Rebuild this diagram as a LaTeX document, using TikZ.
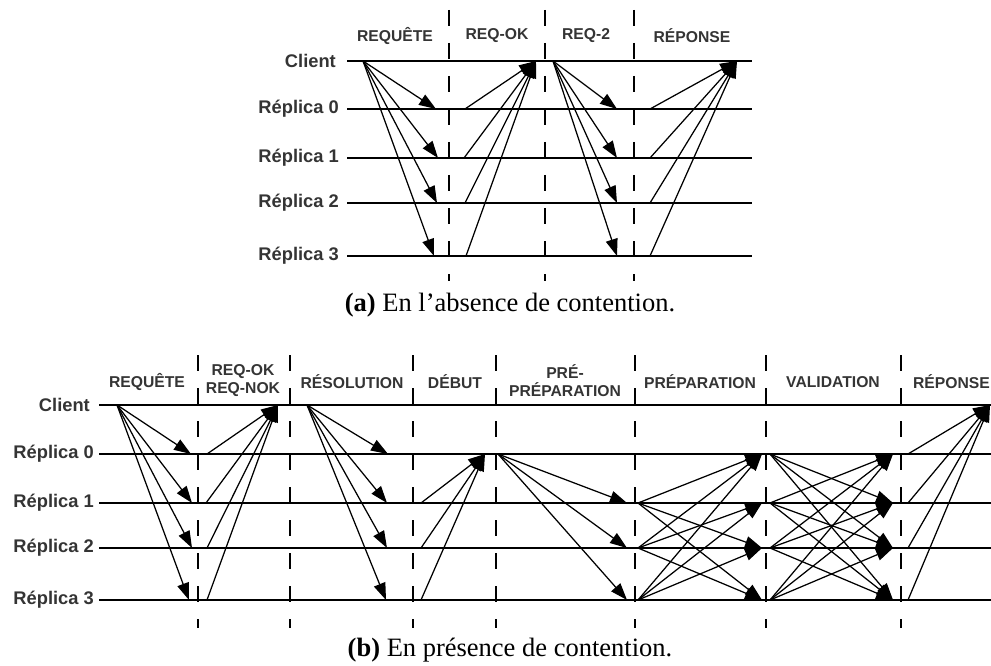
\documentclass[tikz,border=0pt]{standalone}
\usepackage{fontspec}
\setmainfont{Liberation Serif}
\newfontfamily\labfont{Liberation Sans}
\usetikzlibrary{arrows.meta}
\definecolor{labgray}{RGB}{52,52,52}
\begin{document}
\begin{tikzpicture}[x=1pt,y=-1pt,
  timeline/.style={line width=1.4pt},
  phasesep/.style={line width=1.5pt, dash pattern=on 16pt off 17pt},
  msg/.style={line width=1.25pt,-{Triangle[length=17pt,width=12pt]}},
  rowlabel/.style={anchor=east, font=\labfont\bfseries\fontsize{18.3}{20}\selectfont, text=labgray, inner sep=0pt},
  phaselabel/.style={font=\labfont\bfseries\fontsize{15.7}{18}\selectfont, text=labgray, align=center, inner sep=0pt},
  captiontext/.style={font=\fontsize{26.5}{28}\selectfont, inner sep=0pt}]

\useasboundingbox (0,0) rectangle (991,666);

% ---------- (a) without contention ----------
\foreach \n/\y/\t/\lx in {c/61/Client/336, 0/109/Réplica 0/339, 1/158/Réplica 1/339, 2/203/Réplica 2/339, 3/256/Réplica 3/339} {
  \node[rowlabel] (a-lab-\n) at (\lx,\y) {\t};
  \coordinate (a-beg-\n) at (347,\y);
  \coordinate (a-end-\n) at (752,\y);
  \draw[timeline] (a-beg-\n) -- (a-end-\n);
}
\foreach \i/\x in {1/449, 2/545, 3/634} {
  \coordinate (a-sep-top-\i) at (\x,10);
  \coordinate (a-sep-bot-\i) at (\x,281);
  \draw[phasesep] (a-sep-top-\i) -- (a-sep-bot-\i);
}
\node[phaselabel] (a-ph-1) at (395,36) {REQUÊTE};
\node[phaselabel] (a-ph-2) at (497,36) {REQ-OK};
\node[phaselabel] (a-ph-3) at (586,36) {REQ-2};
\node[phaselabel] (a-ph-4) at (692,36) {RÉPONSE};

% request: client to every replica
\coordinate (a-req-src) at (363,61);
\foreach \n/\x/\y in {0/436/109, 1/438/158, 2/437/203, 3/434/256} {
  \coordinate (a-req-\n) at (\x,\y);
  \draw[msg] (a-req-src) -- (a-req-\n);
}
% req-ok: every replica back to the client
\coordinate (a-ok-dst) at (536,61);
\foreach \n/\x/\y in {0/465/109, 1/464/158, 2/465/203, 3/466/256} {
  \coordinate (a-ok-\n) at (\x,\y);
  \draw[msg] (a-ok-\n) -- (a-ok-dst);
}
% req-2: client to every replica
\coordinate (a-req2-src) at (553,61);
\foreach \n/\y in {0/109, 1/158, 2/203, 3/256} {
  \coordinate (a-req2-\n) at (617,\y);
  \draw[msg] (a-req2-src) -- (a-req2-\n);
}
% reply: every replica to the client
\coordinate (a-rep-dst) at (737,61);
\foreach \n/\y in {0/109, 1/158, 2/203, 3/256} {
  \coordinate (a-rep-\n) at (650,\y);
  \draw[msg] (a-rep-\n) -- (a-rep-dst);
}
\node[captiontext] (a-cap) at (510,305) {\textbf{(a)} En l’absence de contention.};

% ---------- (b) with contention ----------
\foreach \n/\y/\t/\lx in {c/405/Client/90, 0/454/Réplica 0/94, 1/503/Réplica 1/94, 2/548/Réplica 2/94, 3/600/Réplica 3/94} {
  \node[rowlabel] (b-lab-\n) at (\lx,\y) {\t};
  \coordinate (b-beg-\n) at (99,\y);
  \coordinate (b-end-\n) at (995,\y);
  \draw[timeline] (b-beg-\n) -- (b-end-\n);
}
\foreach \i/\x in {1/198, 2/290, 3/413, 4/496, 5/635, 6/766, 7/901} {
  \coordinate (b-sep-top-\i) at (\x,355);
  \coordinate (b-sep-bot-\i) at (\x,628);
  \draw[phasesep] (b-sep-top-\i) -- (b-sep-bot-\i);
}
\node[phaselabel] (b-ph-1) at (147,382) {REQUÊTE};
\node[phaselabel] (b-ph-2) at (243,381) {REQ-OK\\REQ-NOK};
\node[phaselabel] (b-ph-3) at (352,382) {RÉSOLUTION};
\node[phaselabel] (b-ph-4) at (455,382) {DÉBUT};
\node[phaselabel] (b-ph-5) at (565,381) {PRÉ-\\PRÉPARATION};
\node[phaselabel] (b-ph-6) at (700,382) {PRÉPARATION};
\node[phaselabel] (b-ph-7) at (833,382) {VALIDATION};
\node[phaselabel, anchor=east] (b-ph-8) at (990,382) {RÉPONSE};

% request
\coordinate (b-req-src) at (117,405);
\foreach \n/\x/\y in {0/191/454, 1/192/503, 2/192/548, 3/189/600} {
  \coordinate (b-req-\n) at (\x,\y);
  \draw[msg] (b-req-src) -- (b-req-\n);
}
% req-ok / req-nok
\coordinate (b-ok-dst) at (278,405);
\foreach \n/\x/\y in {0/207/454, 1/206/503, 2/207/548, 3/207/600} {
  \coordinate (b-ok-\n) at (\x,\y);
  \draw[msg] (b-ok-\n) -- (b-ok-dst);
}
% resolution
\coordinate (b-res-src) at (307,405);
\foreach \n/\x/\y in {0/388/454, 1/387/503, 2/387/548, 3/386/600} {
  \coordinate (b-res-\n) at (\x,\y);
  \draw[msg] (b-res-src) -- (b-res-\n);
}
% start: replicas 1-3 to replica 0
\coordinate (b-deb-dst) at (485,454);
\foreach \n/\y in {1/503, 2/548, 3/600} {
  \coordinate (b-deb-\n) at (421,\y);
  \draw[msg] (b-deb-\n) -- (b-deb-dst);
}
% pre-prepare: replica 0 to replicas 1-3
\coordinate (b-pp-src) at (498,454);
\foreach \n/\y in {1/503, 2/548, 3/600} {
  \coordinate (b-pp-\n) at (627,\y);
  \draw[msg] (b-pp-src) -- (b-pp-\n);
}
% end points on each replica line for prepare, commit and reply
\foreach \n/\y in {0/454, 1/503, 2/548, 3/600} {
  \coordinate (b-prs-\n) at (638,\y);
  \coordinate (b-prd-\n) at (762,\y);
  \coordinate (b-vas-\n) at (770,\y);
  \coordinate (b-vad-\n) at (893,\y);
  \coordinate (b-rep-\n) at (908,\y);
}
% prepare: replicas 1-3 to all other replicas
\foreach \i in {1,2,3} {
  \foreach \j in {0,1,2,3} {
    \ifnum\i=\j\else \draw[msg] (b-prs-\i) -- (b-prd-\j); \fi
  }
}
% commit: every replica to all the others
\foreach \i in {0,1,2,3} {
  \foreach \j in {0,1,2,3} {
    \ifnum\i=\j\else \draw[msg] (b-vas-\i) -- (b-vad-\j); \fi
  }
}
% reply
\coordinate (b-rep-dst) at (990,405);
\foreach \n in {0,1,2,3} {
  \draw[msg] (b-rep-\n) -- (b-rep-dst);
}
\node[captiontext] (b-cap) at (510,650) {\textbf{(b)} En présence de contention.};
\end{tikzpicture}
\end{document}
